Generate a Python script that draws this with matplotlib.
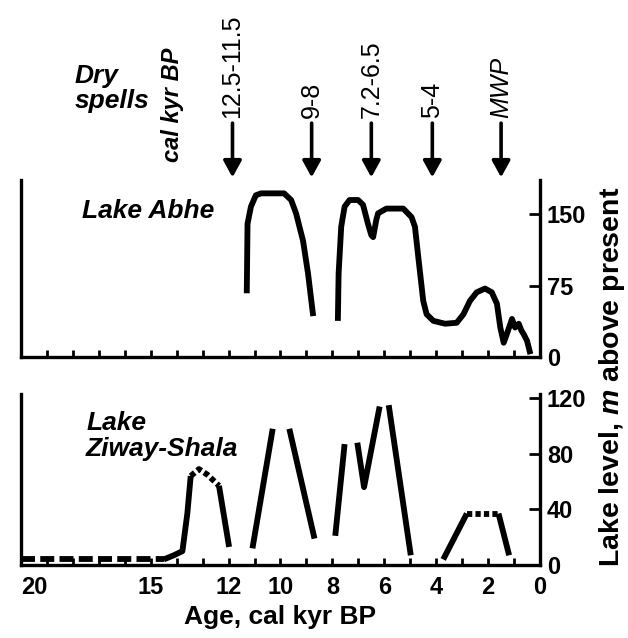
import numpy as np
import matplotlib
matplotlib.use('Agg')
import matplotlib.pyplot as plt
import matplotlib.transforms as mtransforms

plt.rcParams['font.family'] = ['Liberation Sans', 'DejaVu Sans']
plt.rcParams['mathtext.fontset'] = 'custom'
plt.rcParams['mathtext.it'] = 'Liberation Sans:italic:bold'
plt.rcParams['mathtext.rm'] = 'Liberation Sans:bold'

# Lake Abhe (ages in cal kyr BP, levels in m above present)
abhe1_age = [11.30, 11.27, 11.14, 10.95, 10.75, 9.86, 9.59, 9.40, 9.13, 8.94, 8.74]
abhe1_lvl = [67, 140, 158, 170, 172, 172, 165, 151, 122, 88, 43]
abhe2_age = [7.79, 7.76, 7.66, 7.53, 7.34, 7.01, 6.82, 6.63, 6.50, 6.43, 6.31, 6.24,
             5.92, 5.27, 4.95, 4.82, 4.69, 4.50, 4.37, 4.11, 3.66, 3.21, 2.95, 2.70,
             2.44, 2.12, 1.86, 1.66, 1.53, 1.40, 1.28, 1.08, 0.96, 0.82, 0.72, 0.63,
             0.50, 0.37]
abhe2_lvl = [38, 88, 137, 158, 165, 165, 160, 140, 128, 126, 144, 151,
             156, 156, 147, 137, 105, 59, 45, 38, 35, 36, 45, 59,
             68, 72, 68, 56, 31, 15, 24, 40, 31, 35, 28, 24,
             17, 3]

# Lake Ziway-Shala
zw_dash_age = [20.0, 14.5]
zw_dash_lvl = [4, 4]
zw1_age = [14.5, 14.11, 13.78, 13.59, 13.46]
zw1_lvl = [4, 7, 10, 37, 64]
zw1_dot_age = [13.46, 13.14, 12.82, 12.37]
zw1_dot_lvl = [64, 69, 65, 57]
zw1b_age = [12.37, 11.98]
zw1b_lvl = [57, 13]
zw2_age = [11.08, 10.30]
zw2_lvl = [12, 98]
zw3_age = [9.66, 8.69]
zw3_lvl = [98, 19]
zw4_age = [7.89, 7.53]
zw4_lvl = [21, 87]
zw5_age = [7.04, 6.78, 6.18]
zw5_lvl = [88, 56, 114]
zw6_age = [5.83, 4.98]
zw6_lvl = [115, 7]
zw7_age = [3.73, 2.82]
zw7_lvl = [4, 37]
zw7_dot_age = [2.82, 1.60]
zw7_dot_lvl = [37, 37]
zw7b_age = [1.60, 1.19]
zw7b_lvl = [37, 7]

# dry spells
dry_age = [11.85, 8.8, 6.5, 4.15, 1.5]
dry_labels = ['12.5-11.5', '9-8', '7.2-6.5', '5-4', 'MWP']

xtick_vals = [20, 15, 12, 10, 8, 6, 4, 2, 0]

fig = plt.figure(figsize=(6.28, 6.38), dpi=100)
ax1 = fig.add_axes([0.0334, 0.4404, 0.8265, 0.2774])
ax2 = fig.add_axes([0.0334, 0.1144, 0.8265, 0.2680])

LW = 4.2
for ax in (ax1, ax2):
    ax.set_xlim(20, 0)
    ax.spines['top'].set_visible(False)
    for s in ('left', 'right', 'bottom'):
        ax.spines[s].set_linewidth(2.4)
    ax.yaxis.tick_right()
    ax.set_xticks(np.arange(0, 21, 1))
    ax.tick_params(axis='x', direction='in', length=5, width=2)
    ax.tick_params(axis='y', direction='in', length=8, width=2, labelsize=17, pad=5)

# top panel
ax1.plot(abhe1_age, abhe1_lvl, color='black', lw=LW, solid_capstyle='butt', solid_joinstyle='round')
ax1.plot(abhe2_age, abhe2_lvl, color='black', lw=LW, solid_capstyle='butt', solid_joinstyle='round')
ax1.set_ylim(0, 186)
ax1.set_yticks([0, 75, 150])
ax1.set_yticklabels(['0', '75', '150'], fontweight='bold', fontsize=17)
ax1.set_xticklabels([])
ax1.text(17.64, 153, 'Lake Abhe', fontsize=19, fontweight='bold', style='italic',
         ha='left', va='center')

# bottom panel
kw = dict(color='black', lw=LW, solid_capstyle='butt', solid_joinstyle='round')
dot = dict(color='black', lw=LW, dashes=(0.9, 0.55), dash_capstyle='butt')
ax2.plot(zw_dash_age, zw_dash_lvl, color='black', lw=LW, dashes=(2.4, 0.9), dash_capstyle='butt')
ax2.plot(zw1_age, zw1_lvl, **kw)
ax2.plot(zw1_dot_age, zw1_dot_lvl, **dot)
ax2.plot(zw1b_age, zw1b_lvl, **kw)
ax2.plot(zw2_age, zw2_lvl, **kw)
ax2.plot(zw3_age, zw3_lvl, **kw)
ax2.plot(zw4_age, zw4_lvl, **kw)
ax2.plot(zw5_age, zw5_lvl, **kw)
ax2.plot(zw6_age, zw6_lvl, **kw)
ax2.plot(zw7_age, zw7_lvl, **kw)
ax2.plot(zw7_dot_age, zw7_dot_lvl, **dot)
ax2.plot(zw7b_age, zw7b_lvl, **kw)
ax2.set_ylim(0, 123)
ax2.set_yticks([0, 40, 80, 120])
ax2.set_yticklabels(['0', '40', '80', '120'], fontweight='bold', fontsize=17)
ax2.set_xticklabels(['' if v not in xtick_vals else str(v) for v in range(0, 21)],
                    fontweight='bold', fontsize=17)
ax2.get_xticklabels()[20].set_ha('left')
ax2.tick_params(axis='x', pad=8)
ax2.set_xlabel('Age, cal kyr BP', fontsize=19, fontweight='bold', labelpad=4)
ax2.text(17.49, 93, 'Lake\nZiway-Shala', fontsize=19, fontweight='bold', style='italic',
         ha='left', va='center', linespacing=1.1)

fig.text(0.975, 0.41, 'Lake level, $\\it{m}$ above present', rotation=90,
         fontsize=20.5, fontweight='bold', ha='center', va='center')

# dry spell arrows and labels
trans = mtransforms.blended_transform_factory(ax1.transData, fig.transFigure)
for age, lab in zip(dry_age, dry_labels):
    ax1.annotate('', xy=(age, 0.722), xytext=(age, 0.807), xycoords=trans, textcoords=trans,
                 arrowprops=dict(arrowstyle='-|>,head_length=1.0,head_width=0.55',
                                 color='black', lw=2.6, shrinkA=0, shrinkB=0),
                 annotation_clip=False)
    ax1.text(age, 0.815, lab, transform=trans, rotation=90, ha='center', va='bottom',
             fontsize=18, style='italic' if lab == 'MWP' else 'normal')

fig.text(0.119, 0.862, 'Dry\nspells', fontsize=19, fontweight='bold', style='italic',
         ha='left', va='center', linespacing=1.05)
fig.text(0.274, 0.835, 'cal kyr BP', fontsize=17, fontweight='bold', style='italic',
         rotation=90, ha='center', va='center')

fig.savefig('out.png', dpi=100)
